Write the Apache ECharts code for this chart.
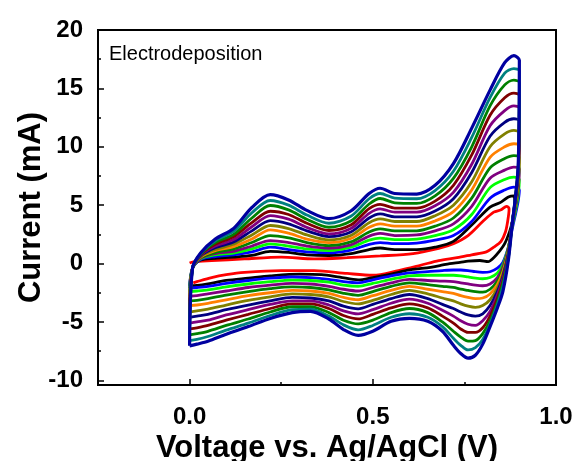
<!DOCTYPE html>
<html><head><meta charset="utf-8">
<script src="https://cdn.jsdelivr.net/npm/echarts@6/dist/echarts.min.js"></script>
<style>html,body{margin:0;padding:0;background:#fff}#c{width:579px;height:461px}</style>
</head><body><div id="c"></div>
<script>
// ---- data ----
const xTickLabels = [0, 0.5, 1.0];
const yTickLabels = [-10, -5, 0, 5, 10, 15, 20];

// shared voltage grids for cycles 3-14
const vUp = [0.0, 0.008, 0.03, 0.07, 0.12, 0.17, 0.22, 0.27, 0.32, 0.38, 0.44, 0.49, 0.52, 0.56, 0.62, 0.67, 0.72, 0.77, 0.82, 0.86, 0.885, 0.9];
const vDown = [0.897, 0.89, 0.88, 0.87, 0.855, 0.84, 0.82, 0.8, 0.78, 0.76, 0.74, 0.72, 0.69, 0.65, 0.6, 0.55, 0.5, 0.46, 0.42, 0.38, 0.33, 0.28, 0.22, 0.16, 0.1, 0.05, 0.02, 0.0];

// cycle 1 (red)
const redUpV = [0.0, 0.01, 0.06, 0.15, 0.25, 0.34, 0.43, 0.52, 0.61, 0.68, 0.72, 0.76, 0.8, 0.83, 0.85, 0.865, 0.872];
const redUpI = [0.05, 0.15, 0.25, 0.4, 0.55, 0.4, 0.5, 0.65, 0.85, 1.3, 1.7, 2.4, 3.6, 4.4, 4.6, 4.9, 4.7];
const redDownV = [0.868, 0.862, 0.85, 0.83, 0.81, 0.77, 0.73, 0.68, 0.63, 0.57, 0.5, 0.43, 0.34, 0.25, 0.15, 0.1, 0.06, 0.02, 0.01];
const redDownI = [3.6, 2.7, 1.9, 1.4, 1.0, 0.75, 0.5, 0.25, -0.15, -0.6, -1.0, -0.85, -0.6, -0.6, -0.75, -0.95, -1.2, -1.55, -1.65];

// cycle 2 (black)
const blackUpV = [0.0, 0.008, 0.03, 0.07, 0.12, 0.17, 0.22, 0.27, 0.32, 0.38, 0.44, 0.49, 0.52, 0.56, 0.62, 0.67, 0.72, 0.77, 0.82, 0.85, 0.87, 0.885];
const blackUpI = [-1.9, -0.4, 0.3, 0.45, 0.55, 0.7, 1.05, 0.95, 0.75, 0.69, 0.85, 1.2, 1.33, 1.2, 1.2, 1.4, 1.9, 3.3, 4.83, 5.26, 5.7, 5.8];
const blackDownV = [0.888, 0.882, 0.874, 0.86, 0.847, 0.83, 0.815, 0.792, 0.76, 0.738, 0.71, 0.683, 0.64, 0.6, 0.55, 0.5, 0.46, 0.41, 0.36, 0.3, 0.22, 0.16, 0.1, 0.05, 0.02, 0.0];
const blackDownI = [4.5, 3.7, 2.8, 1.7, 1.1, 0.5, 0.17, 0.26, 0.2, 0.1, 0.0, -0.17, -0.4, -0.55, -0.9, -1.2, -1.4, -1.17, -0.95, -0.9, -1.05, -1.25, -1.45, -1.75, -1.88, -1.9];

// cycles 3-14: anodic currents on vUp
const blueUp    = [-2.1, -0.4, 0.35, 0.6, 0.75, 1.0, 1.4, 1.2, 1.0, 0.91, 1.15, 1.65, 1.8, 1.7, 1.75, 2.0, 2.4, 3.6, 5.6, 6.3, 6.54, 6.3];
const limeUp    = [-2.4, -0.4, 0.4, 0.75, 0.9, 1.25, 1.69, 1.5, 1.25, 1.11, 1.4, 2.0, 2.18, 2.05, 2.1, 2.4, 2.9, 4.2, 6.5, 7.2, 7.4, 7.2];
const purpleUp  = [-2.8, -0.4, 0.45, 0.85, 1.05, 1.5, 1.97, 1.8, 1.5, 1.31, 1.6, 2.35, 2.58, 2.4, 2.45, 2.8, 3.4, 4.9, 7.3, 8.0, 8.26, 8.1];
const greenUp   = [-3.2, -0.4, 0.5, 0.95, 1.25, 1.8, 2.4, 2.2, 1.8, 1.54, 1.85, 2.7, 2.97, 2.8, 2.8, 3.2, 3.9, 5.6, 8.2, 9.0, 9.25, 9.1];
const orangeUp  = [-3.6, -0.4, 0.55, 1.1, 1.45, 2.1, 2.89, 2.6, 2.1, 1.8, 2.15, 3.1, 3.4, 3.2, 3.2, 3.65, 4.45, 6.3, 9.1, 10.0, 10.26, 10.1];
const oliveUp   = [-4.15, -0.4, 0.6, 1.2, 1.65, 2.45, 3.26, 3.0, 2.45, 2.03, 2.4, 3.5, 3.82, 3.6, 3.6, 4.1, 5.0, 7.0, 10.0, 11.1, 11.4, 11.2];
const navyUp    = [-4.6, -0.4, 0.65, 1.35, 1.85, 2.8, 3.68, 3.4, 2.8, 2.31, 2.7, 3.9, 4.25, 4.0, 4.0, 4.5, 5.55, 7.8, 10.9, 12.1, 12.4, 12.2];
const purple2Up = [-5.1, -0.4, 0.7, 1.5, 2.05, 3.15, 4.11, 3.8, 3.1, 2.54, 3.0, 4.3, 4.68, 4.4, 4.4, 4.95, 6.1, 8.5, 11.8, 13.1, 13.5, 13.3];
const wineUp    = [-5.6, -0.4, 0.75, 1.65, 2.3, 3.5, 4.48, 4.2, 3.45, 2.83, 3.3, 4.7, 5.07, 4.75, 4.75, 5.35, 6.7, 9.3, 12.7, 14.2, 14.6, 14.4];
const green2Up  = [-6.1, -0.4, 0.8, 1.8, 2.5, 3.9, 4.97, 4.6, 3.8, 3.11, 3.65, 5.1, 5.57, 5.2, 5.15, 5.8, 7.3, 10.0, 13.5, 15.3, 15.7, 15.5];
const tealUp    = [-6.6, -0.4, 0.85, 1.95, 2.75, 4.35, 5.4, 5.0, 4.15, 3.45, 4.05, 5.55, 6.0, 5.6, 5.55, 6.25, 7.9, 10.8, 14.2, 16.3, 16.7, 16.5];
const navy2Up   = [-7.05, -0.4, 0.9, 2.1, 3.0, 4.8, 5.9, 5.45, 4.55, 3.85, 4.5, 6.0, 6.45, 6.0, 5.95, 6.7, 8.56, 11.6, 14.85, 17.2, 17.8, 17.4];

// cycles 3-14: cathodic currents on vDown
const blueDown    = [5.4, 4.3, 2.9, 1.4, 0.1, -0.4, -0.7, -0.75, -0.7, -0.6, -0.55, -0.55, -0.6, -0.7, -0.8, -1.05, -1.4, -1.65, -1.55, -1.35, -1.2, -1.15, -1.25, -1.45, -1.7, -1.95, -2.05, -2.1];
const limeDown    = [5.9, 4.6, 3.1, 1.4, -0.1, -0.8, -1.2, -1.3, -1.25, -1.15, -1.05, -1.0, -1.0, -1.0, -1.05, -1.35, -1.7, -1.95, -1.85, -1.6, -1.45, -1.42, -1.55, -1.75, -2.0, -2.25, -2.35, -2.4];
const purpleDown  = [6.4, 4.9, 3.2, 1.3, -0.3, -1.2, -1.75, -1.9, -1.85, -1.75, -1.65, -1.55, -1.5, -1.45, -1.35, -1.65, -2.05, -2.35, -2.2, -1.95, -1.75, -1.7, -1.85, -2.05, -2.35, -2.6, -2.75, -2.8];
const greenDown   = [6.8, 5.1, 3.3, 1.2, -0.5, -1.5, -2.2, -2.45, -2.4, -2.3, -2.2, -2.05, -1.95, -1.8, -1.65, -1.95, -2.4, -2.72, -2.55, -2.25, -2.05, -2.0, -2.15, -2.4, -2.7, -3.0, -3.15, -3.2];
const orangeDown  = [7.1, 5.3, 3.35, 1.1, -0.7, -1.8, -2.6, -2.95, -3.0, -2.9, -2.75, -2.55, -2.4, -2.2, -1.95, -2.3, -2.75, -3.1, -2.9, -2.55, -2.35, -2.3, -2.5, -2.75, -3.1, -3.4, -3.55, -3.6];
const oliveDown   = [7.4, 5.5, 3.4, 1.0, -0.9, -2.1, -3.1, -3.6, -3.75, -3.65, -3.45, -3.2, -2.95, -2.6, -2.3, -2.65, -3.15, -3.45, -3.25, -2.85, -2.65, -2.6, -2.85, -3.15, -3.55, -3.9, -4.05, -4.15];
const navyDown    = [7.7, 5.6, 3.4, 0.9, -1.1, -2.4, -3.6, -4.3, -4.5, -4.4, -4.15, -3.85, -3.5, -3.0, -2.65, -3.0, -3.5, -3.88, -3.65, -3.2, -2.95, -2.9, -3.2, -3.55, -3.95, -4.35, -4.5, -4.6];
const purple2Down = [7.9, 5.7, 3.4, 0.8, -1.3, -2.7, -4.1, -4.9, -5.3, -5.2, -4.9, -4.5, -4.0, -3.4, -3.05, -3.4, -3.95, -4.31, -4.05, -3.55, -3.2, -3.2, -3.5, -3.95, -4.4, -4.85, -5.0, -5.1];
const wineDown    = [8.1, 5.8, 3.35, 0.7, -1.5, -3.0, -4.5, -5.5, -5.9, -5.9, -5.6, -5.1, -4.5, -3.8, -3.45, -3.8, -4.35, -4.74, -4.45, -3.85, -3.45, -3.45, -3.85, -4.35, -4.85, -5.3, -5.5, -5.6];
const green2Down  = [8.3, 5.85, 3.3, 0.55, -1.7, -3.3, -4.9, -6.0, -6.6, -6.65, -6.3, -5.8, -5.0, -4.2, -3.85, -4.2, -4.85, -5.17, -4.85, -4.2, -3.7, -3.7, -4.15, -4.75, -5.3, -5.8, -6.0, -6.1];
const tealDown    = [8.4, 5.9, 3.25, 0.45, -2.0, -3.5, -5.2, -6.5, -7.2, -7.4, -7.0, -6.4, -5.4, -4.6, -4.3, -4.6, -5.3, -5.68, -5.25, -4.5, -3.9, -3.95, -4.45, -5.1, -5.7, -6.25, -6.5, -6.6];
const navy2Down   = [8.5, 5.9, 3.2, 0.3, -2.4, -3.8, -5.4, -6.9, -7.85, -8.1, -7.7, -7.0, -5.8, -4.95, -4.7, -4.95, -5.8, -6.15, -5.65, -4.75, -4.1, -4.2, -4.7, -5.4, -6.05, -6.65, -6.9, -7.05];

// ---- build ----
function pts(vs, is) { return vs.map((v, i) => [v, is[i]]); }
const cycles = [
  { c: '#FF0000', d: pts(redUpV, redUpI).concat(pts(redDownV, redDownI)) },
  { c: '#000000', d: pts(blackUpV, blackUpI).concat(pts(blackDownV, blackDownI)) },
  { c: '#0000FF', d: pts(vUp, blueUp).concat(pts(vDown, blueDown)) },
  { c: '#00FF00', d: pts(vUp, limeUp).concat(pts(vDown, limeDown)) },
  { c: '#800080', d: pts(vUp, purpleUp).concat(pts(vDown, purpleDown)) },
  { c: '#008000', d: pts(vUp, greenUp).concat(pts(vDown, greenDown)) },
  { c: '#FF8000', d: pts(vUp, orangeUp).concat(pts(vDown, orangeDown)) },
  { c: '#808000', d: pts(vUp, oliveUp).concat(pts(vDown, oliveDown)) },
  { c: '#000080', d: pts(vUp, navyUp).concat(pts(vDown, navyDown)) },
  { c: '#800080', d: pts(vUp, purple2Up).concat(pts(vDown, purple2Down)) },
  { c: '#800000', d: pts(vUp, wineUp).concat(pts(vDown, wineDown)) },
  { c: '#008000', d: pts(vUp, green2Up).concat(pts(vDown, green2Down)) },
  { c: '#008080', d: pts(vUp, tealUp).concat(pts(vDown, tealDown)) },
  { c: '#0000A0', d: pts(vUp, navy2Up).concat(pts(vDown, navy2Down)), w: 3.2 }
];

const FONT = "'Liberation Sans', Arial, sans-serif";
const chart = echarts.init(document.getElementById('c'), null, { renderer: 'canvas' });
chart.setOption({
  animation: false,
  backgroundColor: '#fff',
  title: { text: 'Electrodeposition', left: 104, top: 39,
    textStyle: { fontFamily: FONT, fontSize: 20, fontWeight: 'normal', color: '#000' } },
  grid: { left: 98, right: 23, top: 30, bottom: 76, outerBoundsMode: 'none', containLabel: false,
    show: true, borderColor: '#000', borderWidth: 2, backgroundColor: 'transparent' },
  xAxis: [{
    type: 'value', min: -0.25, max: 1.0,
    name: 'Voltage vs. Ag/AgCl (V)', nameLocation: 'middle', nameGap: 48, nameMoveOverlap: false,
    nameTextStyle: { fontFamily: FONT, fontSize: 31, fontWeight: 'bold', color: '#000' },
    axisLine: { show: true, onZero: false, lineStyle: { color: '#000', width: 2 } },
    axisTick: { show: true, inside: true, length: 6, customValues: xTickLabels, lineStyle: { color: '#000', width: 1.5 } },
    axisLabel: { customValues: xTickLabels, showMaxLabel: true, showMinLabel: true, margin: 20,
      formatter: v => v.toFixed(1), fontFamily: FONT, fontSize: 24, fontWeight: 'bold', color: '#000' },
    splitLine: { show: false }
  }, {
    type: 'value', min: -0.25, max: 1.0, position: 'bottom', gridIndex: 0,
    axisLine: { show: false, onZero: false }, axisLabel: { show: false }, splitLine: { show: false },
    axisTick: { show: true, inside: true, length: 3, customValues: [0.25, 0.75], lineStyle: { color: '#000', width: 1.5 } }
  }],
  yAxis: [{
    type: 'value', min: -10.4, max: 20,
    name: 'Current (mA)', nameLocation: 'middle', nameGap: 51, nameRotate: 90, nameMoveOverlap: false,
    nameTextStyle: { fontFamily: FONT, fontSize: 31, fontWeight: 'bold', color: '#000' },
    axisLine: { show: true, onZero: false, lineStyle: { color: '#000', width: 2 } },
    axisTick: { show: true, inside: true, length: 6, customValues: yTickLabels, lineStyle: { color: '#000', width: 1.5 } },
    axisLabel: { customValues: yTickLabels, margin: 15, fontFamily: FONT, fontSize: 24, fontWeight: 'bold', color: '#000' },
    splitLine: { show: false }
  }, {
    type: 'value', min: -10.4, max: 20, position: 'left',
    axisLine: { show: false, onZero: false }, axisLabel: { show: false }, splitLine: { show: false },
    axisTick: { show: true, inside: true, length: 3, customValues: [-7.5, -2.5, 2.5, 7.5, 12.5, 17.5], lineStyle: { color: '#000', width: 1.5 } }
  }],
  series: cycles.map(cy => ({
    type: 'line', xAxisIndex: 0, yAxisIndex: 0, data: cy.d, showSymbol: false, smooth: 0.3,
    lineStyle: { color: cy.c, width: cy.w || 2.8 }, z: 3
  }))
});
</script></body></html>
